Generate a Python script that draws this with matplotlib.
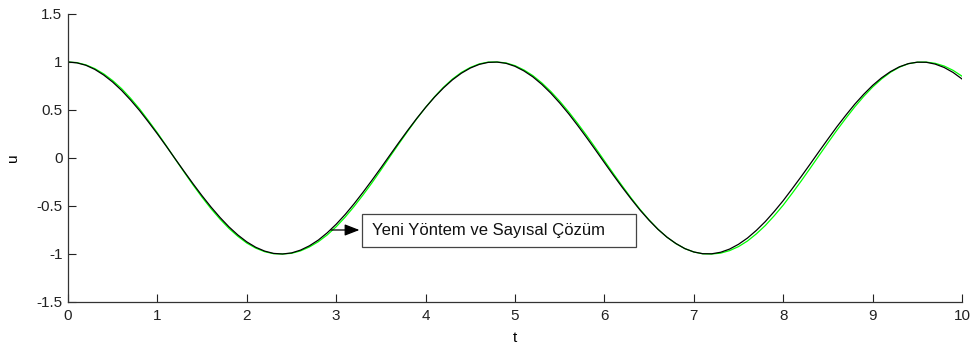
import matplotlib.pyplot as plt
from matplotlib.patches import Rectangle

plt.rcParams['font.family'] = ['Liberation Sans', 'DejaVu Sans']

# time samples (step 0.1) and the two solutions
t = [0.0, 0.1, 0.2, 0.3, 0.4, 0.5, 0.6, 0.7, 0.8, 0.9,
     1.0, 1.1, 1.2, 1.3, 1.4, 1.5, 1.6, 1.7, 1.8, 1.9,
     2.0, 2.1, 2.2, 2.3, 2.4, 2.5, 2.6, 2.7, 2.8, 2.9,
     3.0, 3.1, 3.2, 3.3, 3.4, 3.5, 3.6, 3.7, 3.8, 3.9,
     4.0, 4.1, 4.2, 4.3, 4.4, 4.5, 4.6, 4.7, 4.8, 4.9,
     5.0, 5.1, 5.2, 5.3, 5.4, 5.5, 5.6, 5.7, 5.8, 5.9,
     6.0, 6.1, 6.2, 6.3, 6.4, 6.5, 6.6, 6.7, 6.8, 6.9,
     7.0, 7.1, 7.2, 7.3, 7.4, 7.5, 7.6, 7.7, 7.8, 7.9,
     8.0, 8.1, 8.2, 8.3, 8.4, 8.5, 8.6, 8.7, 8.8, 8.9,
     9.0, 9.1, 9.2, 9.3, 9.4, 9.5, 9.6, 9.7, 9.8, 9.9, 10.0]

u_yeni = [1.000, 0.991, 0.966, 0.923, 0.864, 0.791, 0.704, 0.604, 0.495, 0.375,
          0.251, 0.122, -0.010, -0.141, -0.270, -0.394, -0.511, -0.619, -0.717, -0.802,
          -0.874, -0.930, -0.970, -0.994, -1.000, -0.989, -0.960, -0.915, -0.855, -0.779,
          -0.690, -0.589, -0.477, -0.357, -0.232, -0.103, 0.029, 0.160, 0.288, 0.411,
          0.527, 0.634, 0.730, 0.814, 0.883, 0.937, 0.975, 0.996, 0.999, 0.986,
          0.955, 0.907, 0.845, 0.767, 0.676, 0.573, 0.461, 0.340, 0.214, 0.084,
          -0.048, -0.179, -0.306, -0.428, -0.544, -0.649, -0.744, -0.825, -0.891, -0.944,
          -0.979, -0.997, -0.998, -0.982, -0.949, -0.899, -0.834, -0.754, -0.662, -0.557,
          -0.444, -0.321, -0.195, -0.065, 0.067, 0.197, 0.325, 0.445, 0.560, 0.663,
          0.756, 0.835, 0.900, 0.950, 0.983, 0.998, 0.997, 0.978, 0.943, 0.891, 0.823]

u_sayisal = [1.000, 0.993, 0.970, 0.931, 0.876, 0.806, 0.722, 0.622, 0.512, 0.389,
             0.262, 0.127, -0.012, -0.148, -0.282, -0.409, -0.528, -0.636, -0.733, -0.816,
             -0.886, -0.939, -0.976, -0.997, -1.000, -0.993, -0.968, -0.927, -0.872, -0.801,
             -0.716, -0.616, -0.505, -0.385, -0.259, -0.125, 0.012, 0.147, 0.279, 0.407,
             0.527, 0.638, 0.737, 0.822, 0.891, 0.943, 0.980, 0.999, 1.000, 0.990,
             0.962, 0.917, 0.858, 0.782, 0.693, 0.592, 0.481, 0.361, 0.236, 0.105,
             -0.029, -0.162, -0.292, -0.418, -0.537, -0.645, -0.742, -0.825, -0.892, -0.944,
             -0.979, -0.998, -1.000, -0.991, -0.965, -0.923, -0.865, -0.790, -0.703, -0.601,
             -0.491, -0.368, -0.241, -0.109, 0.025, 0.158, 0.289, 0.413, 0.532, 0.641,
             0.739, 0.823, 0.893, 0.946, 0.982, 0.998, 0.999, 0.986, 0.958, 0.913, 0.852]

x_ticks = [0, 1, 2, 3, 4, 5, 6, 7, 8, 9, 10]
y_ticks = [-1.5, -1, -0.5, 0, 0.5, 1, 1.5]
y_tick_labels = ['-1.5', '-1', '-0.5', '0', '0.5', '1', '1.5']

fig = plt.figure(figsize=(9.74, 3.48), dpi=100)
ax = fig.add_axes([0.0698, 0.1322, 0.9179, 0.8276])

ax.plot(t, u_sayisal, color='#00ff00', lw=0.9)
ax.plot(t, u_yeni, color='black', lw=0.9)

ax.set_xlim(0, 10)
ax.set_ylim(-1.5, 1.5)
ax.set_xticks(x_ticks)
ax.set_xticklabels([str(v) for v in x_ticks])
ax.set_yticks(y_ticks)
ax.set_yticklabels(y_tick_labels)
ax.tick_params(direction='in', length=6, width=0.8, labelsize=11,
               colors='#222222')
ax.tick_params(axis='x', pad=5)
ax.tick_params(axis='y', pad=4)

for side in ['top', 'right']:
    ax.spines[side].set_visible(False)
for side in ['left', 'bottom']:
    ax.spines[side].set_linewidth(0.9)
    ax.spines[side].set_color('#333333')

ax.set_xlabel('t', fontsize=11, labelpad=6)
ax.set_ylabel('u', fontsize=11, labelpad=12)

# text box with an arrow from the curve into it
ax.add_patch(Rectangle((3.29, -0.927), 3.06, 0.344, fc='white',
                       ec='#444444', lw=0.9, zorder=3))
ax.text(3.40, -0.755, 'Yeni Yöntem ve Sayısal Çözüm', fontsize=12,
        va='center', ha='left', color='#111111', zorder=4)
ax.annotate('', xy=(3.26, -0.75), xytext=(2.94, -0.75),
            arrowprops=dict(arrowstyle='-|>,head_length=0.9,head_width=0.35',
                            color='black', lw=0.9,
                            mutation_scale=10, shrinkA=0, shrinkB=0))

fig.savefig('out.png', dpi=100)
